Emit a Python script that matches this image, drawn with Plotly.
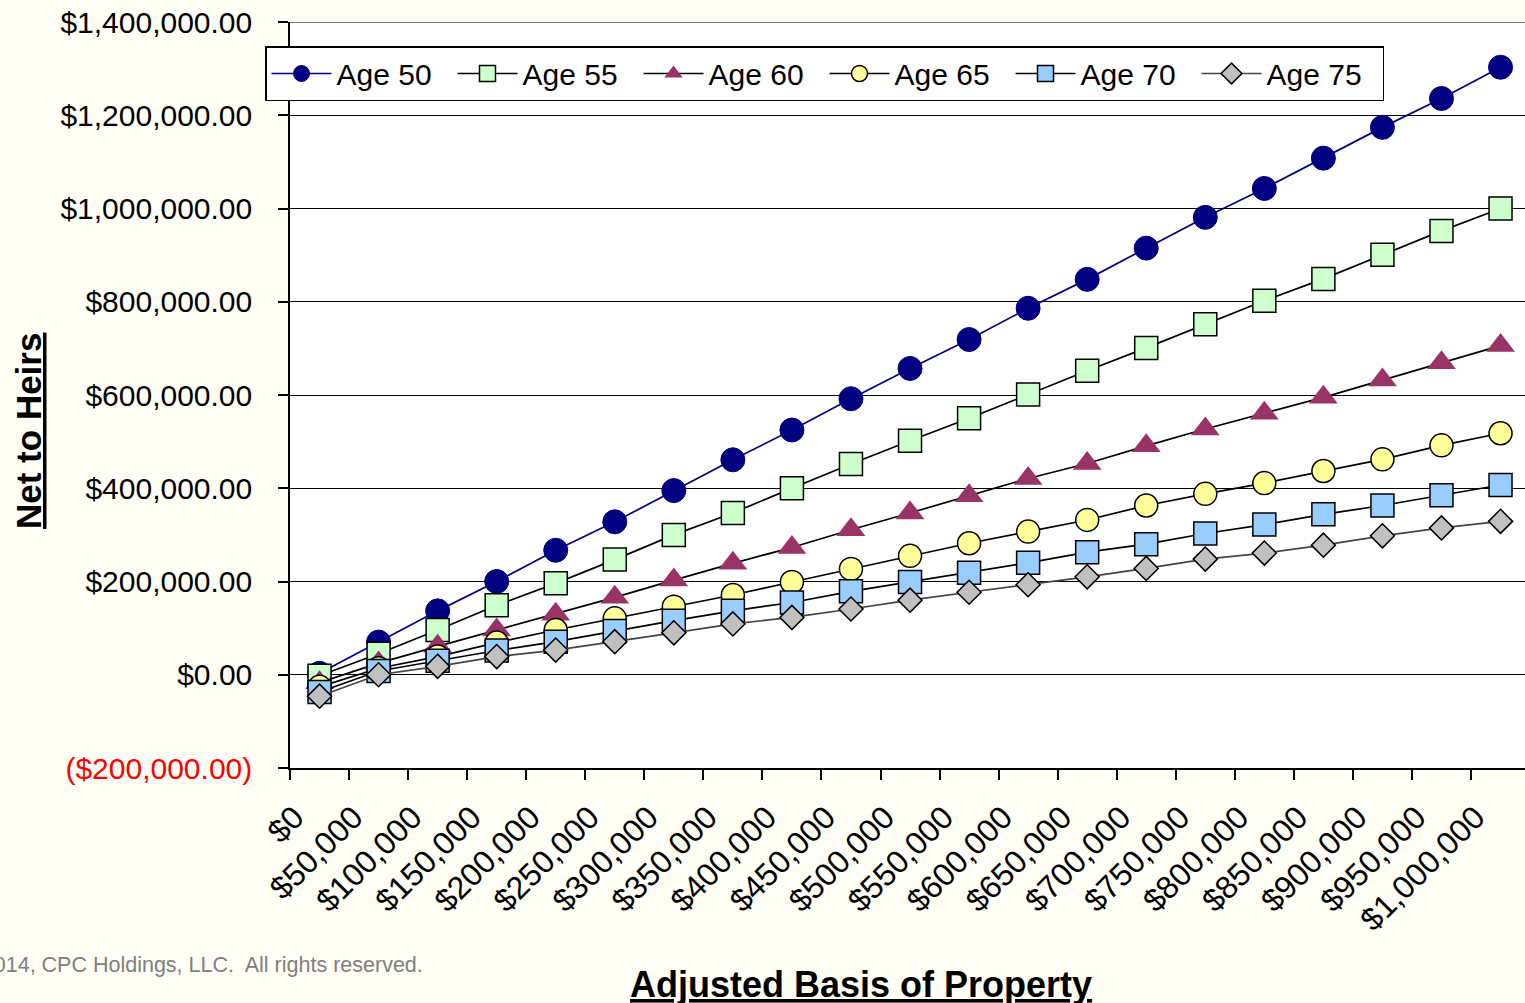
import plotly.graph_objects as go

# Adjusted basis categories ($0 .. $1,000,000 in $50,000 steps)
basis_labels = ["$0", "$50,000", "$100,000", "$150,000", "$200,000", "$250,000",
                "$300,000", "$350,000", "$400,000", "$450,000", "$500,000",
                "$550,000", "$600,000", "$650,000", "$700,000", "$750,000",
                "$800,000", "$850,000", "$900,000", "$950,000", "$1,000,000"]

# Net to heirs by age of owner
age50 = [3000, 70000, 137000, 200000, 267000, 328000, 395000, 461000, 525000, 592000,
         657000, 719000, 786000, 848000, 915000, 981000, 1043000, 1108000, 1174000,
         1236000, 1303000]
age55 = [-2000, 45000, 96000, 149000, 196000, 247000, 300000, 347000, 400000, 452000,
         502000, 550000, 601000, 652000, 701000, 752000, 802000, 849000, 901000,
         952000, 1000000]
age60 = [-17000, 25000, 61000, 96000, 130000, 166000, 203000, 239000, 273000, 311000,
         347000, 384000, 421000, 453000, 491000, 527000, 561000, 595000, 632000,
         669000, 706000]
age65 = [-26000, 14000, 39000, 69000, 96000, 121000, 146000, 171000, 199000, 227000,
         255000, 282000, 307000, 332000, 363000, 388000, 411000, 437000, 462000,
         492000, 518000]
age70 = [-37000, 8000, 30000, 52000, 71000, 94000, 116000, 137000, 155000, 179000,
         199000, 219000, 240000, 263000, 280000, 303000, 322000, 344000, 363000,
         385000, 407000]
age75 = [-46000, 0, 18000, 39000, 53000, 71000, 90000, 109000, 123000, 141000,
         160000, 177000, 193000, 210000, 228000, 248000, 261000, 278000, 298000,
         315000, 329000]

y_ticks = [-200000, 0, 200000, 400000, 600000, 800000, 1000000, 1200000, 1400000]


def money(v):
    s = "${:,.2f}".format(abs(v))
    if v < 0:
        return '<span style="color:#FF0000">(' + s + ')</span>'
    return s


y_ticktext = [money(v) for v in y_ticks]

FONT = "Liberation Sans, Arial, sans-serif"

series = [
    ("Age 50", age50, dict(symbol="circle", size=24, color="#000080",
                           line=dict(color="#000080", width=1)), "#000080"),
    ("Age 55", age55, dict(symbol="square", size=23, color="#CCFFCC",
                           line=dict(color="#000000", width=1.5)), "#000000"),
    ("Age 60", age60, dict(symbol="triangle-up", size=25, color="#993366",
                           line=dict(color="#993366", width=0)), "#000000"),
    ("Age 65", age65, dict(symbol="circle", size=23, color="#FFFF99",
                           line=dict(color="#000000", width=1.5)), "#000000"),
    ("Age 70", age70, dict(symbol="square", size=23, color="#99CCFF",
                           line=dict(color="#000000", width=1.5)), "#000000"),
    ("Age 75", age75, dict(symbol="diamond", size=18.5, color="#C0C0C0",
                           line=dict(color="#000000", width=1.5)), "#444444"),
]

fig = go.Figure()
for name, vals, marker, lc in series:
    fig.add_trace(go.Scatter(
        x=basis_labels, y=vals, name=name, mode="lines+markers",
        line=dict(color=lc, width=1.7), marker=marker,
    ))

W, H = 1525, 1003
ML, MR, MT, MB = 290, 0, 22, 235
plot_w = W - ML - MR
plot_h = H - MT - MB
cat_px = 59.05


def px_x(p):
    return (p - ML) / plot_w


def px_y(p):
    return (H - MB - p) / plot_h


fig.update_layout(
    width=W, height=H,
    margin=dict(l=ML, r=MR, t=MT, b=MB, pad=0),
    paper_bgcolor="#FFFFF5",
    plot_bgcolor="#FFFFFF",
    font=dict(family=FONT, size=30, color="#000000"),
    showlegend=True,
    legend=dict(
        orientation="h", x=px_x(1384), y=px_y(46), xanchor="right", yanchor="top",
        bgcolor="#FFFFFF", bordercolor="#000000", borderwidth=1.5,
        font=dict(family=FONT, size=30, color="#000000"),
        itemwidth=60, entrywidth=111, entrywidthmode="pixels",
        traceorder="normal",
    ),
    xaxis=dict(
        type="category",
        range=[-0.5, -0.5 + plot_w / cat_px],
        tickson="boundaries", ticks="outside", ticklen=10, tickwidth=1.5,
        tickcolor="#000000", tickangle=-45,
        tickfont=dict(family=FONT, size=32, color="#000000"),
        ticklabelshift=-25, ticklabelstandoff=16,
        showline=True, linecolor="#000000", linewidth=1.5,
        showgrid=False, zeroline=False,
    ),
    yaxis=dict(
        range=[-200000, 1400000],
        tickmode="array", tickvals=y_ticks, ticktext=y_ticktext,
        ticks="outside", ticklen=10, tickwidth=1.5, tickcolor="#000000",
        tickfont=dict(family=FONT, size=30, color="#000000"),
        ticklabelstandoff=20,
        showline=True, linecolor="#000000", linewidth=1.5,
        showgrid=True, gridcolor="#000000", gridwidth=1.2,
        zeroline=False,
    ),
    shapes=[
        # top gridline at the upper end of the value range
        dict(type="line", xref="paper", yref="y", x0=0, x1=1,
             y0=y_ticks[-1], y1=y_ticks[-1],
             line=dict(color="#000000", width=1.2), layer="below"),
    ],
    annotations=[
        dict(text="<b><u>Net to Heirs</u></b>", textangle=-90,
             xref="paper", yref="paper", x=px_x(28), y=px_y(431),
             xanchor="center", yanchor="middle", showarrow=False,
             font=dict(family=FONT, size=35, color="#000000")),
        dict(text="<b><u>Adjusted Basis of Property</u></b>",
             xref="paper", yref="paper", x=px_x(861), y=px_y(984),
             xanchor="center", yanchor="middle", showarrow=False,
             font=dict(family=FONT, size=36, color="#000000")),
        dict(text="© 2014, CPC Holdings, LLC.  All rights reserved.",
             xref="paper", yref="paper", x=px_x(425), y=px_y(965),
             xanchor="right", yanchor="middle", showarrow=False,
             font=dict(family=FONT, size=21.5, color="#808080")),
    ],
)

fig.write_html("out.html")
